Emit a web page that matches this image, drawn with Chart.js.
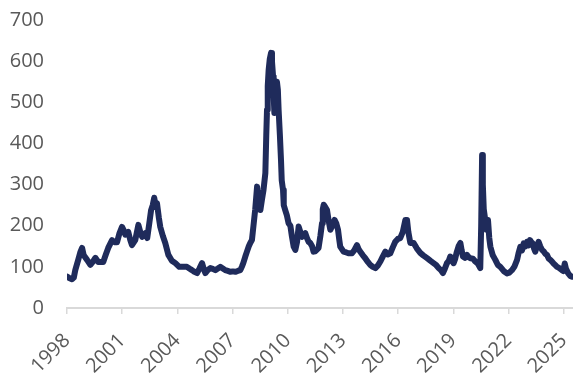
<!DOCTYPE html>
<html>
<head>
<meta charset="utf-8">
<script src="https://cdn.jsdelivr.net/npm/chart.js@4.4.1/dist/chart.umd.min.js"></script>
<style>
  html, body { margin: 0; padding: 0; background: #ffffff; }
  #wrap { width: 573px; height: 374px; }
</style>
</head>
<body>
<div id="wrap"><canvas id="chart" width="573" height="374"></canvas></div>
<script>
// Tick labels
const yearTicks = [1998, 2001, 2004, 2007, 2010, 2013, 2016, 2019, 2022, 2025];
const valueTicks = [0, 100, 200, 300, 400, 500, 600, 700];

// Spread series: time (in years) and level
const dates = [
  1998.02, 1998.12, 1998.27, 1998.37, 1998.45, 1998.61, 1998.72, 1998.82, 1998.91, 1999.09,
  1999.27, 1999.40, 1999.54, 1999.70, 1999.97, 2000.11, 2000.24, 2000.45, 2000.57, 2000.72,
  2000.84, 2000.99, 2001.09, 2001.17, 2001.33, 2001.44, 2001.53, 2001.71, 2001.88, 2001.98,
  2002.08, 2002.26, 2002.36, 2002.47, 2002.57, 2002.66, 2002.74, 2002.83, 2002.89, 2002.99,
  2003.07, 2003.21, 2003.34, 2003.51, 2003.70, 2003.89, 2004.10, 2004.32, 2004.52, 2004.65,
  2004.79, 2004.92, 2005.07, 2005.19, 2005.34, 2005.43, 2005.52, 2005.65, 2005.79, 2005.92,
  2006.06, 2006.20, 2006.33, 2006.47, 2006.60, 2006.74, 2006.88, 2007.01, 2007.15, 2007.28,
  2007.42, 2007.50, 2007.58, 2007.69, 2007.78, 2007.88, 2007.96, 2008.05, 2008.13, 2008.23,
  2008.33, 2008.41, 2008.51, 2008.60, 2008.68, 2008.78, 2008.83, 2008.87, 2008.91, 2008.96,
  2009.02, 2009.09, 2009.14, 2009.20, 2009.23, 2009.27, 2009.32, 2009.41, 2009.46, 2009.50,
  2009.57, 2009.63, 2009.67, 2009.74, 2009.78, 2009.86, 2009.95, 2010.04, 2010.14, 2010.22,
  2010.32, 2010.41, 2010.50, 2010.59, 2010.68, 2010.77, 2010.86, 2010.95, 2011.04, 2011.13,
  2011.22, 2011.32, 2011.40, 2011.49, 2011.59, 2011.67, 2011.77, 2011.86, 2011.90, 2011.95,
  2012.04, 2012.13, 2012.22, 2012.31, 2012.42, 2012.54, 2012.64, 2012.73, 2012.80, 2012.85,
  2013.03, 2013.18, 2013.30, 2013.49, 2013.61, 2013.76, 2013.86, 2013.94, 2014.08, 2014.21,
  2014.35, 2014.48, 2014.62, 2014.76, 2014.89, 2015.03, 2015.16, 2015.30, 2015.43, 2015.57,
  2015.71, 2015.84, 2015.98, 2016.11, 2016.25, 2016.39, 2016.48, 2016.55, 2016.66, 2016.84,
  2017.01, 2017.20, 2017.36, 2017.57, 2017.74, 2017.92, 2018.07, 2018.20, 2018.32, 2018.43,
  2018.53, 2018.65, 2018.75, 2018.83, 2018.92, 2019.01, 2019.10, 2019.17, 2019.28, 2019.38,
  2019.45, 2019.52, 2019.62, 2019.74, 2019.84, 2019.92, 2020.06, 2020.19, 2020.33, 2020.46,
  2020.51, 2020.56, 2020.60, 2020.65, 2020.73, 2020.80, 2020.88, 2020.95, 2021.01, 2021.14,
  2021.28, 2021.41, 2021.55, 2021.73, 2021.91, 2022.04, 2022.18, 2022.31, 2022.46, 2022.55,
  2022.64, 2022.73, 2022.82, 2022.91, 2023.00, 2023.08, 2023.16, 2023.24, 2023.31, 2023.38,
  2023.45, 2023.54, 2023.63, 2023.72, 2023.82, 2023.90, 2023.99, 2024.09, 2024.18, 2024.27,
  2024.36, 2024.45, 2024.54, 2024.63, 2024.72, 2024.81, 2024.90, 2024.97, 2025.05, 2025.12,
  2025.24, 2025.35, 2025.45
];
const spreads = [
  76, 73, 70, 74, 92, 117, 135, 146, 128, 117,
  105, 112, 122, 112, 112, 130, 146, 165, 160, 160,
  180, 197, 188, 178, 185, 165, 153, 165, 202, 185,
  173, 182, 170, 205, 238, 250, 268, 245, 255, 220,
  197, 175, 158, 129, 115, 109, 100, 100, 100, 96,
  92, 88, 85, 95, 109, 95, 85, 92, 97, 95,
  92, 96, 100, 96, 92, 90, 88, 89, 88, 90,
  92, 100, 109, 125, 137, 150, 158, 165, 198, 240,
  295, 260, 238, 265, 287, 328, 420, 482, 540, 579,
  605, 620, 600, 563, 520, 474, 510, 550, 530, 482,
  420, 360, 310, 287, 250, 238, 225, 206, 200, 175,
  149, 141, 160, 198, 185, 173, 178, 182, 170, 161,
  158, 150, 137, 138, 142, 146, 175, 206, 240, 251,
  245, 238, 212, 190, 200, 214, 205, 190, 165, 149,
  137, 135, 133, 133, 140, 153, 142, 137, 128, 121,
  112, 105, 100, 97, 103, 113, 125, 137, 130, 133,
  148, 161, 168, 170, 185, 214, 214, 185, 158, 158,
  145, 134, 128, 121, 115, 109, 104, 97, 92, 85,
  95, 109, 115, 125, 116, 109, 120, 134, 150, 158,
  140, 125, 122, 129, 123, 121, 120, 113, 108, 97,
  200, 372, 300, 240, 214, 190, 214, 170, 149, 128,
  117, 105, 100, 90, 84, 86, 92, 100, 117, 135,
  149, 140, 157, 150, 161, 152, 165, 160, 157, 145,
  137, 150, 161, 150, 141, 138, 132, 129, 120, 117,
  113, 108, 104, 100, 98, 95, 92, 90, 108, 95,
  84, 78, 76
];

const labelFont = { family: 'Open Sans', size: 20 };
const labelColor = '#595959';
const axisGray = '#d9d9d9';

new Chart(document.getElementById('chart').getContext('2d'), {
  type: 'line',
  data: {
    datasets: [{
      data: dates.map((d, i) => ({ x: d, y: spreads[i] })),
      borderColor: '#1f2b5b',
      borderWidth: 6,
      borderCapStyle: 'round',
      borderJoinStyle: 'round',
      pointRadius: 0,
      tension: 0,
      fill: false
    }]
  },
  options: {
    responsive: false,
    animation: false,
    plugins: { legend: { display: false }, tooltip: { enabled: false } },
    layout: { padding: { left: 0, right: 0, top: 20, bottom: 0 } },
    scales: {
      x: {
        type: 'linear',
        min: 1998,
        max: 2025.5,
        afterBuildTicks: (s) => { s.ticks = yearTicks.map(v => ({ value: v })); },
        afterFit: (s) => { s.height = 66; s.paddingLeft = 0; s.paddingRight = 0; },
        ticks: {
          autoSkip: false,
          minRotation: 45,
          maxRotation: 45,
          padding: 15,
          color: labelColor,
          font: labelFont,
          callback: (v) => String(v)
        },
        grid: {
          display: true,
          drawOnChartArea: false,
          drawTicks: true,
          tickLength: 6,
          color: axisGray,
          lineWidth: 1.5
        },
        border: { display: true, color: axisGray, width: 2 }
      },
      y: {
        min: 0,
        max: 700,
        afterBuildTicks: (s) => { s.ticks = valueTicks.map(v => ({ value: v })); },
        afterFit: (s) => { s.width = 67; s.paddingTop = 0; s.paddingBottom = 0; },
        ticks: { padding: 23, color: labelColor, font: labelFont },
        grid: { display: false, drawTicks: false },
        border: { display: false }
      }
    }
  }
});
</script>
</body>
</html>
